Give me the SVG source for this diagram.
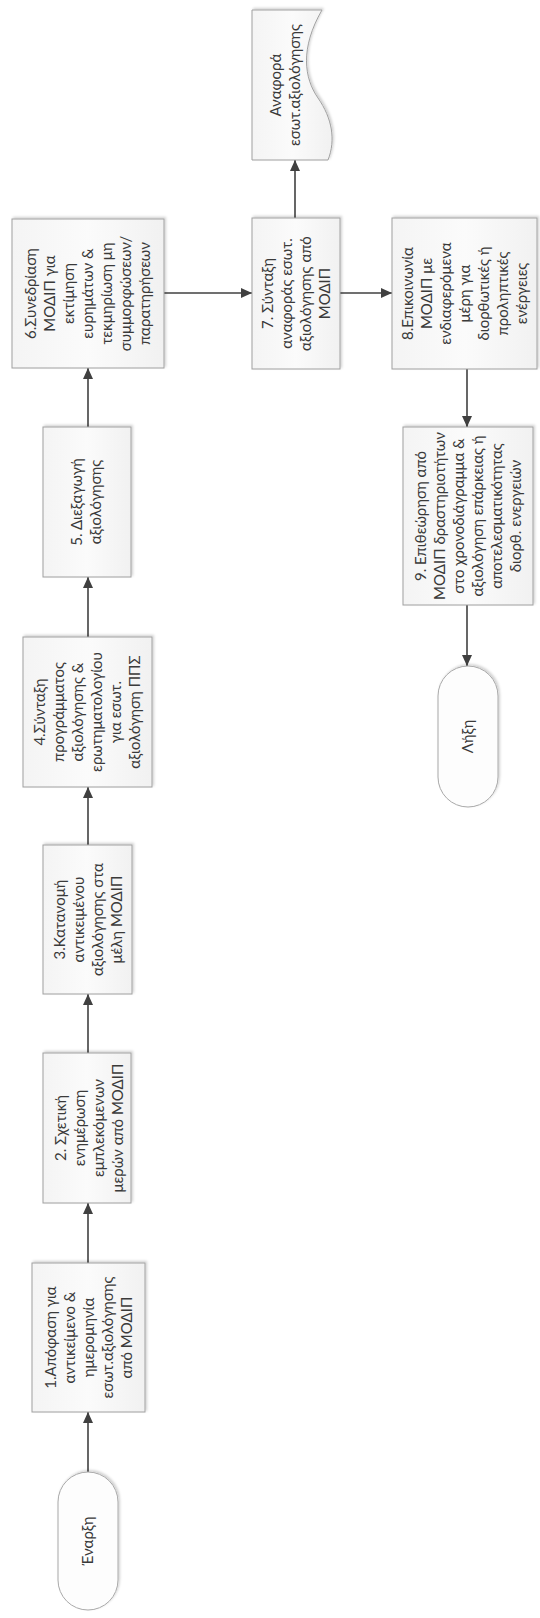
<svg xmlns="http://www.w3.org/2000/svg" width="540" height="1618" viewBox="0 0 540 1618">
<defs>
<style>
.box{fill:url(#g);stroke:#a0a0a0;stroke-width:1;filter:url(#sh)}
.term{fill:#fdfdfd;stroke:#a8a8a8;stroke-width:1;filter:url(#sh)}
.t{font-family:Lato,"Open Sans","Noto Sans",sans-serif;font-size:15px;fill:#3a3a3a;text-anchor:middle}
.c{stroke:#404040;stroke-width:1.6;fill:none;marker-end:url(#ah)}
</style>
<linearGradient id="g" x1="0" y1="0" x2="0" y2="1">
<stop offset="0" stop-color="#f4f4f4"/>
<stop offset="0.5" stop-color="#fbfbfb"/>
<stop offset="1" stop-color="#f1f1f1"/>
</linearGradient>
<filter id="sh" x="-10%" y="-10%" width="120%" height="120%">
<feDropShadow dx="1.5" dy="1.5" stdDeviation="1.2" flood-color="#000" flood-opacity="0.18"/>
</filter>
<marker id="ah" markerUnits="userSpaceOnUse" markerWidth="12" markerHeight="12" refX="11" refY="6" orient="auto">
<path d="M0,1 L11,6 L0,11 Z" fill="#404040"/>
</marker>
</defs>
<rect width="540" height="1618" fill="#ffffff"/>
<g transform="translate(0,1618) rotate(-90)">
<g id="connectors">
<line class="c" x1="146" y1="88" x2="206" y2="88"/>
<line class="c" x1="355" y1="88" x2="415" y2="88"/>
<line class="c" x1="565" y1="88" x2="624" y2="88"/>
<line class="c" x1="773" y1="88" x2="831" y2="88"/>
<line class="c" x1="981" y1="88" x2="1041" y2="88"/>
<line class="c" x1="1191" y1="88" x2="1250" y2="88"/>
<line class="c" x1="1325" y1="164" x2="1325" y2="252"/>
<line class="c" x1="1400" y1="295" x2="1458" y2="295"/>
<line class="c" x1="1325" y1="340" x2="1325" y2="392"/>
<line class="c" x1="1250" y1="467" x2="1191" y2="467"/>
<line class="c" x1="1013" y1="467" x2="952" y2="467"/>
</g>
<g id="start">
<rect class="term" x="8" y="58" width="138" height="60" rx="30"/>
<text class="t" x="77" y="93">Έναρξη</text>
</g>
<g id="n1">
<rect class="box" x="206" y="32" width="149" height="113"/>
<text class="t" x="280.5" y="55.5">1.Απόφαση για<tspan x="280.5" dy="19">αντικείμενο &amp;</tspan><tspan x="280.5" dy="19">ημερομηνία</tspan><tspan x="280.5" dy="19">εσωτ.αξιολόγησης</tspan><tspan x="280.5" dy="19">από ΜΟΔΙΠ</tspan></text>
</g>
<g id="n2">
<rect class="box" x="415" y="43" width="150" height="88"/>
<text class="t" x="490" y="65.5">2. Σχετική<tspan x="490" dy="19">ενημέρωση</tspan><tspan x="490" dy="19">εμπλεκόμενων</tspan><tspan x="490" dy="19">μερών από ΜΟΔΙΠ</tspan></text>
</g>
<g id="n3">
<rect class="box" x="624" y="43" width="149" height="89"/>
<text class="t" x="698.5" y="64.5">3.Κατανομή<tspan x="698.5" dy="19">αντικειμένου</tspan><tspan x="698.5" dy="19">αξιολόγησης στα</tspan><tspan x="698.5" dy="19">μέλη ΜΟΔΙΠ</tspan></text>
</g>
<g id="n4">
<rect class="box" x="831" y="23" width="150" height="129"/>
<text class="t" x="906" y="45">4.Σύνταξη<tspan x="906" dy="19">προγράμματος</tspan><tspan x="906" dy="19">αξιολόγησης &amp;</tspan><tspan x="906" dy="19">ερωτηματολογίου</tspan><tspan x="906" dy="19">για εσωτ.</tspan><tspan x="906" dy="19">αξιολόγηση ΠΠΣ</tspan></text>
</g>
<g id="n5">
<rect class="box" x="1041" y="43" width="150" height="88"/>
<text class="t" x="1116" y="82">5. Διεξαγωγή<tspan x="1116" dy="19">αξιολόγησης</tspan></text>
</g>
<g id="n6">
<rect class="box" x="1250" y="12" width="149" height="152"/>
<text class="t" x="1324.5" y="36">6.Συνεδρίαση<tspan x="1324.5" dy="19">ΜΟΔΙΠ για</tspan><tspan x="1324.5" dy="19">εκτίμηση</tspan><tspan x="1324.5" dy="19">ευρημάτων &amp;</tspan><tspan x="1324.5" dy="19">τεκμηρίωση μη</tspan><tspan x="1324.5" dy="19">συμμορφώσεων/</tspan><tspan x="1324.5" dy="19">παρατηρήσεων</tspan></text>
</g>
<g id="n7">
<rect class="box" x="1249" y="252" width="151" height="88"/>
<text class="t" x="1324.5" y="272.5">7. Σύνταξη<tspan x="1324.5" dy="19">αναφοράς εσωτ.</tspan><tspan x="1324.5" dy="19">αξιολόγησης από</tspan><tspan x="1324.5" dy="19">ΜΟΔΙΠ</tspan></text>
</g>
<g id="doc">
<path class="box" d="M1458,252 L1608,252 L1608,322 C1570,300 1540,304 1520,318 C1500,332 1478,336 1458,328 Z"/>
<text class="t" x="1533" y="280.5">Αναφορά<tspan x="1533" dy="19">εσωτ.αξιολόγησης</tspan></text>
</g>
<g id="n8">
<rect class="box" x="1249" y="392" width="151" height="145"/>
<text class="t" x="1324.5" y="412.5">8.Επικοινωνία<tspan x="1324.5" dy="19">ΜΟΔΙΠ με</tspan><tspan x="1324.5" dy="19">ενδιαφερόμενα</tspan><tspan x="1324.5" dy="19">μέρη για</tspan><tspan x="1324.5" dy="19">διορθωτικές ή</tspan><tspan x="1324.5" dy="19">προληπτικές</tspan><tspan x="1324.5" dy="19">ενέργειες</tspan></text>
</g>
<g id="n9">
<rect class="box" x="1013" y="403" width="178" height="130"/>
<text class="t" x="1102" y="425.5">9. Επιθεώρηση από<tspan x="1102" dy="19">ΜΟΔΙΠ δραστηριοτήτων</tspan><tspan x="1102" dy="19">στο χρονοδιάγραμμα &amp;</tspan><tspan x="1102" dy="19">αξιολόγηση επάρκειας ή</tspan><tspan x="1102" dy="19">αποτελεσματικότητας</tspan><tspan x="1102" dy="19">διορθ. ενεργειών</tspan></text>
</g>
<g id="end">
<rect class="term" x="811" y="438" width="141" height="60" rx="30"/>
<text class="t" x="881.5" y="473">Λήξη</text>
</g>
</g>
</svg>
